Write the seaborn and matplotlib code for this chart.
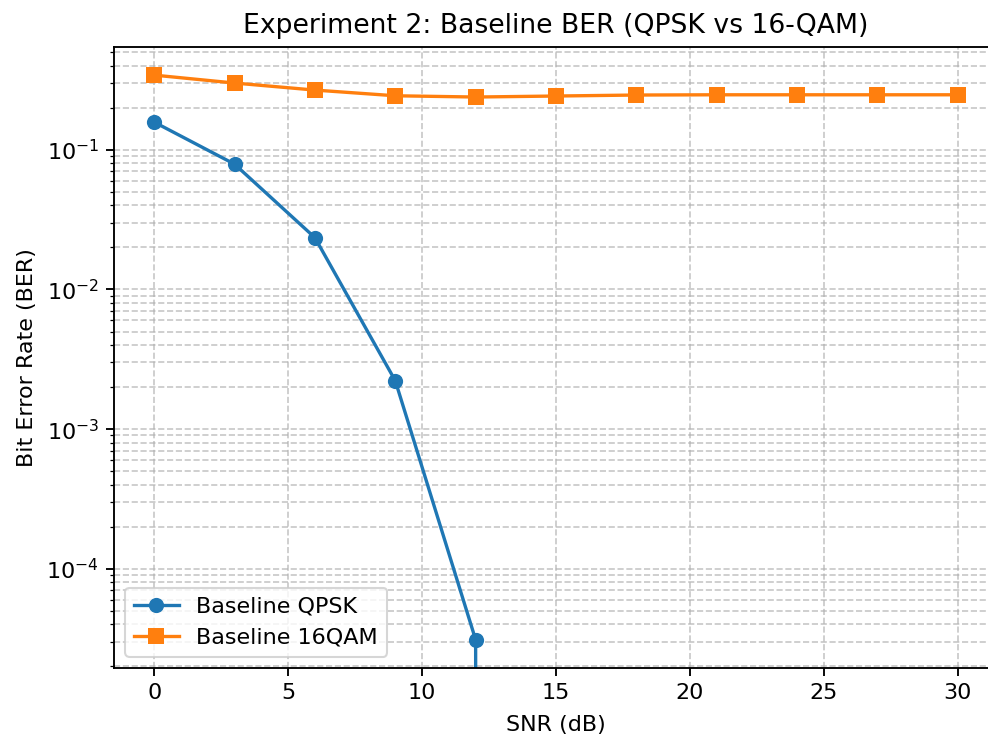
import numpy as np
import pandas as pd
import matplotlib
matplotlib.use("Agg")
import matplotlib.pyplot as plt
import seaborn as sns

# values
snr_db = [0, 3, 6, 9, 12, 15, 18, 21, 24, 27, 30]
ber_qpsk = [0.158, 0.079, 0.0235, 0.00222, 3.1e-5, 0, 0, 0, 0, 0, 0]
ber_16qam = [0.343, 0.301, 0.268, 0.244, 0.239, 0.243, 0.247, 0.248, 0.248, 0.248, 0.248]

df = pd.DataFrame({"SNR": snr_db, "QPSK": ber_qpsk, "16QAM": ber_16qam})

plt.rcParams["font.family"] = ["DejaVu Sans"]

fig = plt.figure(figsize=(988 / 150, 735 / 150), dpi=150)
ax = fig.add_axes([0.1154, 0.0912, 0.8947, 0.845])

sns.lineplot(data=df, x="SNR", y="QPSK", marker="o", markersize=7.3,
             markeredgewidth=0, color="#1f77b4", linewidth=1.6,
             label="Baseline QPSK", ax=ax)
sns.lineplot(data=df, x="SNR", y="16QAM", marker="s", markersize=7.3,
             markeredgewidth=0, color="#ff7f0e", linewidth=1.6,
             label="Baseline 16QAM", ax=ax)

ax.set_yscale("log")
ax.set_title("Experiment 2: Baseline BER (QPSK vs 16-QAM)", fontsize=12.8, pad=6.5)
ax.set_xlabel("SNR (dB)", fontsize=10.7, labelpad=5.5)
ax.set_ylabel("Bit Error Rate (BER)", fontsize=10.7, labelpad=4.5)
ax.tick_params(labelsize=10.7, length=3.8, width=0.9)
for s in ax.spines.values():
    s.set_linewidth(0.9)
# the reference is cropped just before the right spine
ax.spines["right"].set_visible(False)
ax.grid(True, which="both", linestyle="--", color="#b0b0b0", alpha=0.7, linewidth=0.8)
ax.legend(loc="lower left", fontsize=10.7)

fig.savefig("out.png", dpi=150)
